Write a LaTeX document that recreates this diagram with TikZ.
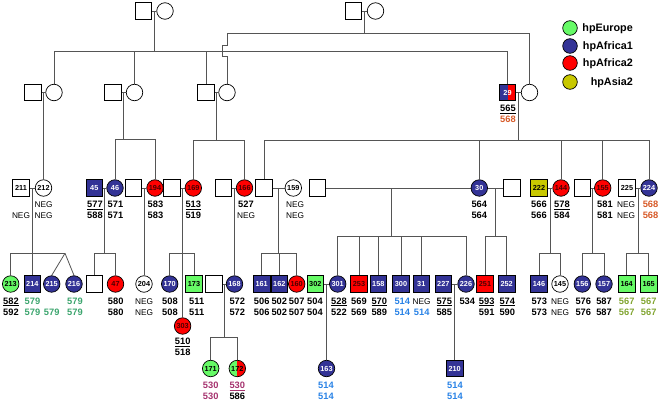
\documentclass[tikz,border=0pt]{standalone}
\usepackage{fontspec}
\setmainfont{Liberation Sans}
\usetikzlibrary{calc,backgrounds}
\definecolor{cEU}{RGB}{102,250,102}
\definecolor{cAFa}{RGB}{51,51,150}
\definecolor{cAFb}{RGB}{255,0,0}
\definecolor{cAS}{RGB}{200,200,0}
\definecolor{tGreen}{RGB}{60,165,110}
\definecolor{tBlue}{RGB}{40,130,230}
\definecolor{tOrange}{RGB}{215,90,40}
\definecolor{tPurple}{RGB}{165,50,110}
\definecolor{tOlive}{RGB}{130,165,50}
\definecolor{lineC}{RGB}{85,85,85}
\newcommand\hgreen[1]{\textcolor{tGreen}{#1}}
\newcommand\hblue[1]{\textcolor{tBlue}{#1}}
\newcommand\horange[1]{\textcolor{tOrange}{#1}}
\newcommand\hpurple[1]{\textcolor{tPurple}{#1}}
\newcommand\holive[1]{\textcolor{tOlive}{#1}}
\newcommand\negtxt{{\mdseries\fontsize{8.3}{10}\selectfont NEG}}
\newcommand\plab[5]{\node[lbl] (#1t) at (#2,#3) {#4};\node[lbl] (#1b) at (#2,#3+11) {#5};}
\tikzset{
  base shape/.style={draw=black,line width=0.7pt,fill=white,minimum size=16.5pt,inner sep=0pt,
    font=\bfseries\fontsize{7.3}{8}\selectfont},
  sq/.style={base shape,rectangle},
  ci/.style={base shape,circle},
  hpeu/.style={fill=cEU},
  hpafa/.style={fill=cAFa,text=white},
  hpafb/.style={fill=cAFb,text=black!70!red},
  hpas/.style={fill=cAS},
  halves/.style 2 args={path picture={
      \fill[#1] (path picture bounding box.south west) rectangle (path picture bounding box.north);
      \fill[#2] (path picture bounding box.south) rectangle (path picture bounding box.north east);}},
  lbl/.style={anchor=base,inner sep=0pt,font=\bfseries\fontsize{9.3}{11}\selectfont},
  ln/.style={draw=lineC,line width=0.8pt},
  legc/.style={circle,draw=black,line width=0.7pt,minimum size=14.6pt,inner sep=0pt},
  legt/.style={anchor=base east,inner sep=0pt,font=\bfseries\fontsize{10.8}{12}\selectfont},
}
\begin{document}
\begin{tikzpicture}[x=1pt,y=-1pt]
\useasboundingbox (0,0) rectangle (661,401);

% ---------- Generation I
\node[sq] (g1a) at (143.5,11) {};
\node[ci] (g1b) at (165,11) {};
\node[sq] (g1c) at (353.5,11) {};
\node[ci] (g1d) at (375.5,11) {};

% ---------- Generation II
\node[sq] (aS) at (33,92.5) {};
\node[ci] (aC) at (54,92.5) {};
\node[sq] (bS) at (113,92.5) {};
\node[ci] (bC) at (134.5,92.5) {};
\node[sq] (cS) at (206,92.5) {};
\node[ci] (cC) at (227,92.5) {};
\node[sq,halves={cAFa}{cAFb},text=white] (n29) at (507.5,92.5) {29};
\node[ci] (dC) at (529.5,92.5) {};
\plab{l29}{508}{111.7}{\underline{565}}{\horange{568}}

% ---------- Generation III
\node[sq] (n211) at (21,188) {211};
\node[ci] (n212) at (43.5,188) {212};
\plab{l211}{21}{207.3}{}{\negtxt}
\plab{l212}{43.5}{207.3}{\negtxt}{\negtxt}
\node[sq,hpafa] (n45) at (94.3,188) {45};
\node[ci,hpafa] (n46) at (115,188) {46};
\plab{l45}{95}{207.3}{\underline{577}}{588}
\plab{l46}{115.5}{207.3}{571}{571}
\node[sq] (s133) at (133.3,188) {};
\node[ci,hpafb] (n194) at (155,188) {194};
\plab{l194}{155.5}{207.3}{583}{583}
\node[sq] (s172) at (172,188) {};
\node[ci,hpafb] (n169) at (193.3,188) {169};
\plab{l169}{193.3}{207.3}{\underline{513}}{519}
\node[sq] (s223) at (223.3,188) {};
\node[ci,hpafb] (n166) at (244.5,188) {166};
\plab{l166}{246}{207.3}{527}{\negtxt}
\node[sq] (s264) at (264,188) {};
\node[ci] (n159) at (293.3,188) {159};
\plab{l159}{295}{207.3}{\negtxt}{\negtxt}
\node[sq] (s317) at (317.3,188) {};
\node[ci,hpafa] (n30) at (479.3,188) {30};
\plab{l30}{479.3}{207.3}{564}{564}
\node[sq] (s512) at (511.7,188) {};
\node[sq,hpas] (n222) at (539,188) {222};
\plab{l222}{539}{207.3}{566}{566}
\node[ci,hpafb] (n144) at (561,188) {144};
\plab{l144}{562}{207.3}{\underline{578}}{584}
\node[sq] (s582) at (582.3,188) {};
\node[ci,hpafb] (n155) at (602.7,188) {155};
\plab{l155}{605}{207.3}{581}{581}
\node[sq] (n225) at (627,188) {225};
\plab{l225}{626}{207.3}{\negtxt}{\negtxt}
\node[ci,hpafa] (n224) at (649,188) {224};
\plab{l224}{650.5}{207.3}{\horange{568}}{\horange{568}}

% ---------- Generation IV
\node[ci,hpeu] (n213) at (10.7,284) {213};
\plab{l213}{11}{304}{\underline{582}}{592}
\node[sq,hpafa] (n214) at (32.3,284) {214};
\plab{l214}{32.5}{304}{\hgreen{579}}{\hgreen{579}}
\node[ci,hpafa] (n215) at (51.7,284) {215};
\plab{l215}{51.7}{304}{}{\hgreen{579}}
\node[ci,hpafa] (n216) at (74,284) {216};
\plab{l216}{75}{304}{\hgreen{579}}{\hgreen{579}}
\node[sq] (s94) at (94.3,284) {};
\node[ci,hpafb] (n47) at (115.5,284) {47};
\plab{l47}{115.7}{304}{580}{580}
\node[ci] (n204) at (144,284) {204};
\plab{l204}{144}{304}{\negtxt}{\negtxt}
\node[ci,hpafa] (n170) at (169.7,284) {170};
\plab{l170}{170}{304}{508}{508}
\node[sq,hpeu] (n173) at (194,284) {173};
\plab{l173}{196.7}{304}{511}{511}
\node[ci,hpafb] (n303) at (182.6,326) {303};
\plab{l303}{182.7}{344.3}{\underline{510}}{518}
\node[sq] (s214) at (214,284) {};
\node[ci,hpafa] (n168) at (234.5,284) {168};
\plab{l168}{237.3}{304}{572}{572}
\node[sq,hpafa] (n161) at (261.7,284) {161};
\plab{l161}{261.7}{304}{506}{506}
\node[sq,hpafa] (n162) at (279.3,284) {162};
\plab{l162}{279.3}{304}{502}{502}
\node[ci,hpafb] (n160) at (296.7,284) {160};
\plab{l160}{296.7}{304}{507}{507}
\node[sq,hpeu] (n302) at (315.3,284) {302};
\plab{l302}{315}{304}{504}{504}
\node[ci,hpafa] (n301) at (337.7,284) {301};
\plab{l301}{339}{304}{\underline{528}}{522}
\node[sq,hpafb] (n253) at (359,284) {253};
\plab{l253}{359}{304}{569}{569}
\node[sq,hpafa] (n158) at (378.3,284) {158};
\plab{l158}{379.3}{304}{\underline{570}}{589}
\node[sq,hpafa] (n300) at (401,284) {300};
\plab{l300}{402.3}{304}{\hblue{514}}{\hblue{514}}
\node[sq,hpafa] (n31) at (421.3,284) {31};
\plab{l31}{421.7}{304}{\negtxt}{\hblue{514}}
\node[sq,hpafa] (n227) at (443.3,284) {227};
\plab{l227}{444.3}{304}{\underline{575}}{585}
\node[ci,hpafa] (n226) at (466,284) {226};
\plab{l226}{467.3}{304}{534}{}
\node[sq,hpafb] (n251) at (485,284) {251};
\plab{l251}{486.7}{304}{\underline{593}}{591}
\node[sq,hpafa] (n252) at (506.7,284) {252};
\plab{l252}{507.3}{304}{\underline{574}}{590}
\node[sq,hpafa] (n146) at (539,284) {146};
\plab{l146}{539.3}{304}{573}{573}
\node[ci] (n145) at (560,284) {145};
\plab{l145}{560}{304}{\negtxt}{\negtxt}
\node[ci,hpafa] (n156) at (582.3,284) {156};
\plab{l156}{583.3}{304}{576}{576}
\node[ci,hpafa] (n157) at (604,284) {157};
\plab{l157}{604}{304}{587}{587}
\node[sq,hpeu] (n164) at (626.7,284) {164};
\plab{l164}{626.7}{304}{\holive{567}}{\holive{567}}
\node[sq,hpeu] (n165) at (648.7,284) {165};
\plab{l165}{648.7}{304}{\holive{567}}{\holive{567}}

% ---------- Generation V
\node[ci,hpeu] (n171) at (210.7,368.5) {171};
\plab{l171}{210.7}{388.3}{\hpurple{530}}{\hpurple{530}}
\node[ci,halves={cEU}{cAFb}] (n172) at (237.3,368.5) {172};
\plab{l172}{237.3}{388.3}{\textcolor{tPurple}{\underline{530}}}{586}
\node[ci,hpafa] (n163) at (326.5,368.5) {163};
\plab{l163}{326}{388.3}{\hblue{514}}{\hblue{514}}
\node[sq,hpafa] (n210) at (454.6,368.5) {210};
\plab{l210}{455}{388.3}{\hblue{514}}{\hblue{514}}

% ---------- Legend
\node[legc,fill=cEU] (legEU) at (570,28) {};
\node[legt] (legEUt) at (633,31.8) {hpEurope};
\node[legc,fill=cAFa] (legA1) at (570,46) {};
\node[legt] (legA1t) at (633,49.8) {hpAfrica1};
\node[legc,fill=cAFb] (legA2) at (570,63) {};
\node[legt] (legA2t) at (633,66.8) {hpAfrica2};
\node[legc,fill=cAS] (legAS) at (570,82) {};
\node[legt] (legASt) at (633,85.8) {hpAsia2};

% ---------- helper coordinates (bar levels)
\coordinate (y33) at (0,33);
\coordinate (y51) at (0,51);
\coordinate (y139) at (0,139);
\coordinate (y140) at (0,140);
\coordinate (y141) at (0,140.7);
\coordinate (y236) at (0,236);
\coordinate (y253) at (0,253.3);
\coordinate (y337) at (0,337.3);
\coordinate (tw) at (65,253.3);
\coordinate (jA) at (227,45);
\coordinate (jB) at (222,45);
\coordinate (jC) at (222,56);
\coordinate (jD) at (227,56);

\begin{scope}[on background layer]
% couple lines and their midpoints
\foreach \a/\b/\m in {g1a/g1b/m1,g1c/g1d/m2,aS/aC/mA,bS/bC/mB,cS/cC/mC,n29/dC/mD,
    n211/n212/m211,n45/n46/m45,s133/n194/m194,s172/n169/m169,s223/n166/m166,
    s264/n159/m159,n30/s512/m30,n222/n144/m144,s582/n155/m155,n225/n224/m224,
    s214/n168/m168,n302/n301/m301,n227/n226/m226,s317/n30/mX}{
  \draw[ln] (\a.east) -- (\b.west);
  \coordinate (\m) at ($(\a.east)!0.5!(\b.west)$);
}
\coordinate (m317) at (391,188);

% Generation I -> II
\draw[ln] (m1) -- (m1 |- y51);
\foreach \c in {aC,bC,cS,n29} \draw[ln] (m1 |- y51) -| (\c.north);
\draw[ln] (m2) -- (m2 |- y33);
\draw[ln] (m2 |- y33) -| (dC.north);
\draw[ln] (m2 |- y33) -| (jA) -- (jB) -- (jC) -- (jD) -- (cC.north);

% Generation II -> III
\draw[ln] (mA) -- (mA |- n212.north);
\draw[ln] (mB) -- (mB |- y139);
\foreach \c in {n46,n194} \draw[ln] (mB |- y139) -| (\c.north);
\draw[ln] (mC) -- (mC |- y140);
\foreach \c in {n169,n166} \draw[ln] (mC |- y140) -| (\c.north);
\draw[ln] (mD) -- (mD |- y141);
\foreach \c in {s264,n30,n144,n155,n224} \draw[ln] (mD |- y141) -| (\c.north);

% Generation III -> IV
\draw[ln] (m211) -- (m211 |- y253);
\foreach \c in {n213,n214} \draw[ln] (m211 |- y253) -| (\c.north);
\draw[ln] (m211 |- y253) -- (tw);
\draw[ln] (tw) -- (n215.north);
\draw[ln] (tw) -- (n216.north);
\draw[ln] (m45) -- (m45 |- y253);
\foreach \c in {s94,n47} \draw[ln] (m45 |- y253) -| (\c.north);
\draw[ln] (m194) -- (m194 |- n204.north);
\draw[ln] (m169) -- (m169 |- n303.north);
\foreach \c in {n170,n173} \draw[ln] (m169 |- y253) -| (\c.north);
\draw[ln] (m166) -- (m166 |- n168.north);
\draw[ln] (m159) -- (m159 |- y253);
\foreach \c in {n161,n162,n160} \draw[ln] (m159 |- y253) -| (\c.north);
\draw[ln] (m317) -- (m317 |- y236);
\foreach \c in {n301,n253,n158,n300,n31,n226} \draw[ln] (m317 |- y236) -| (\c.north);
\draw[ln] (m30) -- (m30 |- y236);
\foreach \c in {n251,n252} \draw[ln] (m30 |- y236) -| (\c.north);
\draw[ln] (m144) -- (m144 |- y253);
\foreach \c in {n146,n145} \draw[ln] (m144 |- y253) -| (\c.north);
\draw[ln] (m155) -- (m155 |- y253);
\foreach \c in {n156,n157} \draw[ln] (m155 |- y253) -| (\c.north);
\draw[ln] (m224) -- (m224 |- y253);
\foreach \c in {n164,n165} \draw[ln] (m224 |- y253) -| (\c.north);

% Generation IV -> V
\draw[ln] (m168) -- (m168 |- y337);
\foreach \c in {n171,n172} \draw[ln] (m168 |- y337) -| (\c.north);
\draw[ln] (m301) -- (m301 |- n163.north);
\draw[ln] (m226) -- (m226 |- n210.north);
\end{scope}
\end{tikzpicture}
\end{document}
